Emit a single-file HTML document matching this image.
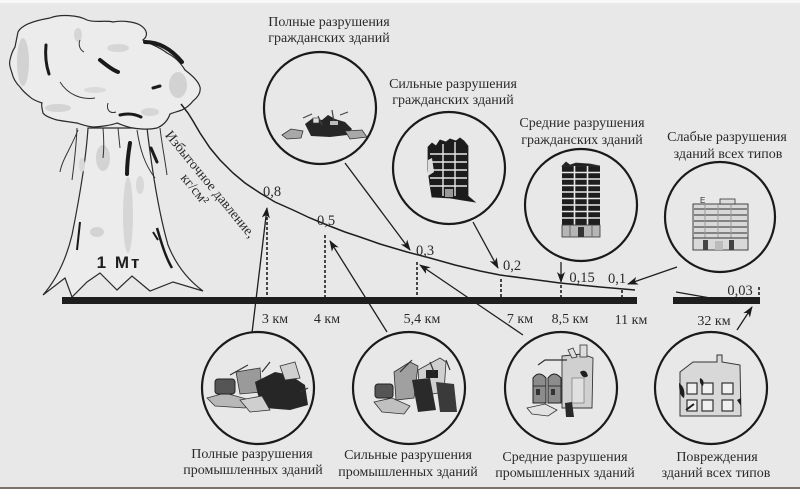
<!DOCTYPE html>
<html>
<head>
<meta charset="utf-8">
<style>
html,body{margin:0;padding:0;background:#e8e8e8;}
svg{display:block;}
.t{font-family:"Liberation Serif","Noto Serif CJK SC",serif;fill:#2a2a2a;font-size:14px;}
.n{font-family:"Liberation Serif","Noto Serif CJK SC",serif;fill:#2a2a2a;font-size:14.5px;}
</style>
</head>
<body>
<svg width="800" height="489" viewBox="0 0 800 489" xmlns="http://www.w3.org/2000/svg">
<defs>
<marker id="ah" markerWidth="11" markerHeight="8" refX="10" refY="4" orient="auto" markerUnits="userSpaceOnUse">
<path d="M0,0 L11,4 L0,8 L3,4 Z" fill="#1a1a1a"/>
</marker>
</defs>
<rect x="0" y="0" width="800" height="489" fill="#e8e8e8"/>
<rect x="0" y="0" width="800" height="3" fill="#f8f8f8"/>
<rect x="0" y="487" width="800" height="2" fill="#7a726a"/>

<!-- mushroom cloud stem -->
<path d="M88,128 C86,160 80,195 72,235 C66,260 56,280 43,295 L65,278 L72,297 L87,282 L100,273 L117,290 L132,276 L150,291 L173,282 L203,291 C188,280 176,265 168,245 C158,210 152,170 147,128 Z" fill="#ececec" stroke="#2a2a2a" stroke-width="1.2"/>
<ellipse cx="103" cy="158" rx="7" ry="13" fill="#d3d3d3"/>
<ellipse cx="128" cy="215" rx="5" ry="38" fill="#d6d6d6"/>
<ellipse cx="97" cy="232" rx="7" ry="5" fill="#d3d3d3"/>
<ellipse cx="140" cy="185" rx="4" ry="9" fill="#d8d8d8"/>
<ellipse cx="82" cy="165" rx="3" ry="7" fill="#d8d8d8"/>
<path d="M77,128 C76,150 74,165 72,180 M78,130 C70,150 62,160 60,172" fill="none" stroke="#333" stroke-width="1"/>
<path d="M103,128 C104,140 104,150 103,158 M118,128 L120,148 M137,130 C140,150 145,165 155,178 M160,128 C162,145 165,160 167,175" fill="none" stroke="#333" stroke-width="1"/>
<path d="M130,143 C128,155 127,165 127,174" stroke="#1a1a1a" stroke-width="4" fill="none" stroke-linecap="round"/>
<path d="M151,148 L157,162" stroke="#1a1a1a" stroke-width="3" fill="none" stroke-linecap="round"/>
<path d="M80,222 L77,250" stroke="#1a1a1a" stroke-width="2" fill="none"/>
<path d="M157,228 C162,245 166,258 172,268" stroke="#1a1a1a" stroke-width="2.5" fill="none"/>
<path d="M153,232 L158,240" stroke="#1a1a1a" stroke-width="2" fill="none"/>

<!-- mushroom cap -->
<path d="M18,32 C22,24 38,20 50,18 C60,14 78,15 87,20 C95,23 105,20 113,22 C122,20 135,22 140,25 C148,30 148,36 143,40 C150,44 160,47 167,53 C175,57 180,62 185,70 C190,74 198,80 200,87 C201,92 198,97 193,101 C190,105 186,108 182,110 C176,112 172,113 170,114 C168,120 164,125 157,128 C148,130 140,129 133,128 C126,127 120,124 117,123 C112,125 100,127 93,127 C85,126 80,124 77,123 C70,122 62,121 57,120 C50,118 45,116 43,113 C42,108 41,105 42,103 C36,101 32,99 30,97 C25,93 22,90 20,87 C15,82 13,78 12,73 C10,67 9,64 10,60 C11,55 13,50 15,47 C16,42 17,37 18,32 Z" fill="#ececec" stroke="#2a2a2a" stroke-width="1.2"/>
<ellipse cx="23" cy="62" rx="6" ry="24" fill="#d2d2d2"/>
<ellipse cx="78" cy="35" rx="4" ry="7" fill="#d6d6d6"/>
<ellipse cx="118" cy="48" rx="11" ry="4" fill="#d6d6d6"/>
<ellipse cx="178" cy="85" rx="9" ry="13" fill="#d2d2d2"/>
<ellipse cx="58" cy="108" rx="13" ry="4" fill="#d4d4d4"/>
<ellipse cx="150" cy="112" rx="9" ry="4" fill="#d6d6d6"/>
<ellipse cx="95" cy="90" rx="11" ry="3" fill="#dadada"/>
<path d="M46,45 C45,55 46,65 49,74" stroke="#1a1a1a" stroke-width="3" fill="none" stroke-linecap="round"/>
<path d="M100,60 C105,64 112,70 118,72" stroke="#1a1a1a" stroke-width="4" fill="none" stroke-linecap="round"/>
<path d="M145,42 C160,42 172,50 182,62" stroke="#1a1a1a" stroke-width="4" fill="none" stroke-linecap="round"/>
<path d="M120,115 C128,113 135,114 141,117" stroke="#1a1a1a" stroke-width="3" fill="none" stroke-linecap="round"/>
<path d="M153,88 L160,86" stroke="#1a1a1a" stroke-width="3" fill="none" stroke-linecap="round"/>
<path d="M60,82 C68,95 82,100 95,98" stroke="#333" stroke-width="1" fill="none"/>
<path d="M108,103 C106,110 110,114 116,112" stroke="#333" stroke-width="1" fill="none"/>
<path d="M80,40 C78,45 80,50 84,52" stroke="#333" stroke-width="1" fill="none"/>

<text x="119" y="268" font-family="Liberation Sans, sans-serif" font-weight="bold" font-size="17" fill="#1e1e1e" text-anchor="middle" letter-spacing="2">1 Мт</text>

<g transform="translate(210,184.5) rotate(50.7)">
<text class="t" x="0" y="4" text-anchor="middle">Избыточное давление,</text>
<text class="t" x="-6" y="19" text-anchor="middle">кг/см²</text>
</g>

<polyline points="181,104 188,113 193,121 200,133 210,148 220,160 233,173 245,183 260,193 275,202 293,210 310,218 327,225 345,232 360,237 380,244 407,252 430,258 455,265 480,271 500,275 530,279 560,283 600,287 635,290" fill="none" stroke="#1e1e1e" stroke-width="1.5"/>

<rect x="62" y="297" width="575" height="7" fill="#1e1e1e"/>
<rect x="673" y="297" width="87" height="7" fill="#1e1e1e"/>
<line x1="676" y1="292" x2="716" y2="299" stroke="#1e1e1e" stroke-width="1.3"/>

<g stroke="#1e1e1e" stroke-width="1.6" stroke-dasharray="3,2">
<line x1="267" y1="212" x2="267" y2="297"/>
<line x1="325" y1="235" x2="325" y2="297"/>
<line x1="417" y1="262" x2="417" y2="297"/>
<line x1="501" y1="279" x2="501" y2="297"/>
<line x1="561" y1="285" x2="561" y2="297"/>
<line x1="622" y1="290" x2="622" y2="297"/>
<line x1="759" y1="287" x2="759" y2="297"/>
</g>

<text class="n" x="272" y="196" text-anchor="middle">0,8</text>
<text class="n" x="326" y="225" text-anchor="middle">0,5</text>
<text class="n" x="425" y="255" text-anchor="middle">0,3</text>
<text class="n" x="512" y="270" text-anchor="middle">0,2</text>
<text class="n" x="582" y="282" text-anchor="middle">0,15</text>
<text class="n" x="617" y="283" text-anchor="middle">0,1</text>
<text class="n" x="740" y="295" text-anchor="middle">0,03</text>

<text class="t" x="275" y="323" text-anchor="middle">3 км</text>
<text class="t" x="327" y="323" text-anchor="middle">4 км</text>
<text class="t" x="422" y="323" text-anchor="middle">5,4 км</text>
<text class="t" x="520" y="323" text-anchor="middle">7 км</text>
<text class="t" x="570" y="323" text-anchor="middle">8,5 км</text>
<text class="t" x="631" y="324" text-anchor="middle">11 км</text>
<text class="t" x="714" y="325" text-anchor="middle">32 км</text>

<g stroke="#1e1e1e" stroke-width="1.3" fill="none" marker-end="url(#ah)">
<line x1="345" y1="163" x2="410" y2="250"/>
<line x1="473" y1="222" x2="498" y2="268"/>
<line x1="561" y1="262" x2="561" y2="282"/>
<line x1="677" y1="267" x2="628" y2="284"/>
<line x1="252" y1="333" x2="267" y2="208"/>
<line x1="387" y1="332" x2="330" y2="241"/>
<line x1="523" y1="335" x2="420" y2="265"/>
<line x1="737" y1="330" x2="752" y2="307"/>
</g>

<g fill="none" stroke="#1a1a1a" stroke-width="2.2">
<circle cx="320" cy="108" r="56"/>
<circle cx="449" cy="168" r="56"/>
<circle cx="581" cy="205" r="56"/>
<circle cx="720" cy="217" r="55"/>
<circle cx="258" cy="388" r="56"/>
<circle cx="409" cy="388" r="56"/>
<circle cx="561" cy="388" r="56"/>
<circle cx="711" cy="388" r="56"/>
</g>

<text class="t" x="329" y="26" text-anchor="middle">Полные разрушения</text>
<text class="t" x="329" y="42" text-anchor="middle">гражданских зданий</text>
<text class="t" x="453" y="88" text-anchor="middle">Сильные разрушения</text>
<text class="t" x="453" y="104" text-anchor="middle">гражданских зданий</text>
<text class="t" x="582" y="127" text-anchor="middle">Средние разрушения</text>
<text class="t" x="582" y="144" text-anchor="middle">гражданских зданий</text>
<text class="t" x="727" y="141" text-anchor="middle">Слабые разрушения</text>
<text class="t" x="728" y="158" text-anchor="middle">зданий всех типов</text>

<text class="t" x="252" y="458" text-anchor="middle">Полные разрушения</text>
<text class="t" x="253" y="474" text-anchor="middle">промышленных зданий</text>
<text class="t" x="408" y="459" text-anchor="middle">Сильные разрушения</text>
<text class="t" x="408" y="476" text-anchor="middle">промышленных зданий</text>
<text class="t" x="565" y="461" text-anchor="middle">Средние разрушения</text>
<text class="t" x="565" y="477" text-anchor="middle">промышленных зданий</text>
<text class="t" x="717" y="461" text-anchor="middle">Повреждения</text>
<text class="t" x="716" y="477" text-anchor="middle">зданий всех типов</text>

<!-- icon 1 -->
<polygon points="282,135 291,129 303,131 301,138 287,139" fill="#a8a8a8" stroke="#333" stroke-width="0.8"/>
<polygon points="305,124 313,118 322,120 328,115 335,119 345,122 352,129 347,135 330,137 311,136" fill="#262626"/>
<polygon points="345,131 362,130 367,137 350,139" fill="#a8a8a8" stroke="#333" stroke-width="0.8"/>
<path d="M303,118 L312,114 M318,116 L322,125 M332,110 L334,122 M340,115 L348,112" stroke="#444" stroke-width="1.2"/>
<rect x="313" y="118" width="6" height="5" fill="#ddd" stroke="#333" stroke-width="0.6"/>
<rect x="330" y="121" width="8" height="4" fill="#bbb"/>

<!-- icon 2 -->
<polygon points="428,147 432,143 436,146 440,140 446,142 450,139 456,141 460,138 464,141 468,146 468,196 475,202 462,200 450,198 432,197 430,185 428,170" fill="#1c1c1c" stroke="#222" stroke-width="0.8"/>
<g stroke="#e8e8e8" stroke-width="1.4">
<line x1="443" y1="144" x2="443" y2="196"/>
<line x1="455" y1="142" x2="455" y2="196"/>
<line x1="430" y1="154" x2="467" y2="154"/>
<line x1="430" y1="162" x2="467" y2="162"/>
<line x1="430" y1="170" x2="467" y2="170"/>
<line x1="430" y1="178" x2="467" y2="178"/>
<line x1="430" y1="186" x2="467" y2="186"/>
</g>
<rect x="445" y="189" width="8" height="8" fill="#999"/>
<polygon points="428,160 432,158 434,172 428,176" fill="#ddd"/>

<!-- icon 3 -->
<rect x="562" y="166" width="38" height="59" fill="#1e1e1e"/>
<polygon points="562,166 566,162 570,165 576,163 590,164 600,166" fill="#1e1e1e" stroke="#333" stroke-width="0.8"/>
<g stroke="#e8e8e8" stroke-width="1.6">
<line x1="574.5" y1="166" x2="574.5" y2="225"/>
<line x1="587.5" y1="166" x2="587.5" y2="225"/>
<line x1="562" y1="172.5" x2="600" y2="172.5"/>
<line x1="562" y1="179" x2="600" y2="179"/>
<line x1="562" y1="185.5" x2="600" y2="185.5"/>
<line x1="562" y1="192" x2="600" y2="192"/>
<line x1="562" y1="198.5" x2="600" y2="198.5"/>
<line x1="562" y1="205" x2="600" y2="205"/>
<line x1="562" y1="211.5" x2="600" y2="211.5"/>
<line x1="562" y1="218" x2="600" y2="218"/>
</g>
<rect x="562" y="225" width="38" height="12" fill="#b5b5b5" stroke="#333" stroke-width="0.8"/>
<rect x="578" y="227" width="6" height="10" fill="#333"/>
<line x1="570" y1="225" x2="570" y2="237" stroke="#666"/>
<line x1="592" y1="225" x2="592" y2="237" stroke="#666"/>

<!-- icon 4 -->
<rect x="693" y="204" width="55" height="46" fill="#d8d8d8" stroke="#333" stroke-width="0.9"/>
<rect x="720" y="199" width="15" height="5" fill="#ddd" stroke="#333" stroke-width="0.8"/>
<text x="700" y="203" font-family="Liberation Sans, sans-serif" font-size="8" fill="#333">E</text>
<g stroke="#666" stroke-width="1.6">
<line x1="694" y1="209" x2="747" y2="209"/>
<line x1="694" y1="215" x2="747" y2="215"/>
<line x1="694" y1="221" x2="747" y2="221"/>
<line x1="694" y1="227" x2="747" y2="227"/>
<line x1="694" y1="233" x2="747" y2="233"/>
</g>
<g stroke="#999" stroke-width="1">
<line x1="705" y1="205" x2="705" y2="238"/>
<line x1="718" y1="205" x2="718" y2="238"/>
<line x1="731" y1="205" x2="731" y2="238"/>
</g>
<line x1="693" y1="238" x2="748" y2="238" stroke="#333"/>
<rect x="703" y="240" width="5" height="10" fill="#444"/>
<rect x="729" y="240" width="5" height="10" fill="#444"/>
<rect x="715" y="241" width="8" height="9" fill="#bbb"/>

<!-- icon 5 -->
<polygon points="207,398 225,393 250,400 245,408 215,406" fill="#b8b8b8" stroke="#333" stroke-width="0.8"/>
<polygon points="236,372 260,368 262,392 240,394" fill="#9a9a9a" stroke="#333" stroke-width="0.8"/>
<rect x="215" y="379" width="20" height="15" rx="3" fill="#555" stroke="#222"/>
<polygon points="255,382 275,372 290,375 305,385 308,405 290,410 265,408 258,395" fill="#262626"/>
<polygon points="280,366 295,362 300,378 285,380" fill="#d0d0d0" stroke="#333" stroke-width="0.8"/>
<polygon points="240,400 262,396 270,410 250,412" fill="#cfcfcf" stroke="#333" stroke-width="0.8"/>
<path d="M230,375 L248,365 M262,372 L270,362 M300,392 L308,388" stroke="#333" stroke-width="1.2"/>

<!-- icon 6 -->
<polygon points="374,402 392,398 410,406 404,414 382,412" fill="#c0c0c0" stroke="#333" stroke-width="0.8"/>
<rect x="375" y="384" width="18" height="14" rx="3" fill="#555" stroke="#222"/>
<polygon points="394,372 410,362 418,366 414,398 396,400" fill="#a0a0a0" stroke="#333" stroke-width="0.8"/>
<polygon points="418,370 440,358 446,362 444,392 420,396" fill="#cfcfcf" stroke="#333" stroke-width="0.8"/>
<polygon points="412,380 430,378 436,410 418,412" fill="#2a2a2a"/>
<polygon points="436,382 454,384 457,412 440,412" fill="#3a3a3a"/>
<rect x="426" y="370" width="12" height="8" fill="#222"/>
<path d="M400,372 L412,360 M430,362 L434,372 M446,360 L450,370" stroke="#333" stroke-width="1.2"/>

<!-- icon 7 -->
<polygon points="562,356 582,354 593,358 592,408 562,408" fill="#d0d0d0" stroke="#333" stroke-width="0.9"/>
<rect x="580" y="345" width="7" height="12" fill="#ddd" stroke="#333" stroke-width="0.8"/>
<polygon points="568,350 573,348 577,357 572,358" fill="#ddd" stroke="#333" stroke-width="0.8"/>
<path d="M538,365 L545,360 L567,360" stroke="#333" stroke-width="1.2" fill="none"/>
<path d="M533,378 Q539,370 546,378 L546,403 L533,403 Z" fill="#8c8c8c" stroke="#222" stroke-width="1"/>
<path d="M548,378 Q554,370 561,378 L561,403 L548,403 Z" fill="#8c8c8c" stroke="#222" stroke-width="1"/>
<line x1="533" y1="386" x2="546" y2="386" stroke="#333"/>
<line x1="548" y1="386" x2="561" y2="386" stroke="#333"/>
<rect x="536" y="389" width="4" height="6" fill="#333"/>
<rect x="551" y="389" width="4" height="6" fill="#333"/>
<path d="M580,372 Q586,368 588,376 Q583,380 580,372 Z" fill="#1e1e1e"/>
<rect x="572" y="378" width="12" height="25" fill="#e0e0e0" stroke="#666" stroke-width="0.6"/>
<polygon points="565,403 572,402 574,417 566,417" fill="#2a2a2a"/>
<polygon points="527,408 545,404 557,410 548,416 532,414" fill="#e2e2e2" stroke="#333" stroke-width="0.8"/>

<!-- icon 8 -->
<polygon points="680,372 693,362 717,362 717,355 722,355 722,362 740,365 741,416 680,416" fill="#d8d8d8" stroke="#333" stroke-width="1"/>
<g fill="#f0f0f0" stroke="#333" stroke-width="1.2">
<rect x="687" y="383" width="10" height="11"/>
<rect x="702" y="383" width="11" height="11"/>
<rect x="722" y="383" width="11" height="11"/>
<rect x="687" y="400" width="10" height="11"/>
<rect x="702" y="400" width="11" height="11"/>
<rect x="722" y="400" width="11" height="11"/>
</g>
<path d="M679,383 Q686,388 684,398 Q679,396 679,383 Z" fill="#1e1e1e"/>
<path d="M700,378 Q705,380 703,386 Q699,384 700,378 Z" fill="#1e1e1e"/>
<path d="M737,400 L741,398 L741,406 Z" fill="#1e1e1e"/>
<path d="M686,410 L694,404" stroke="#1e1e1e" stroke-width="2"/>
</svg>
</body>
</html>
